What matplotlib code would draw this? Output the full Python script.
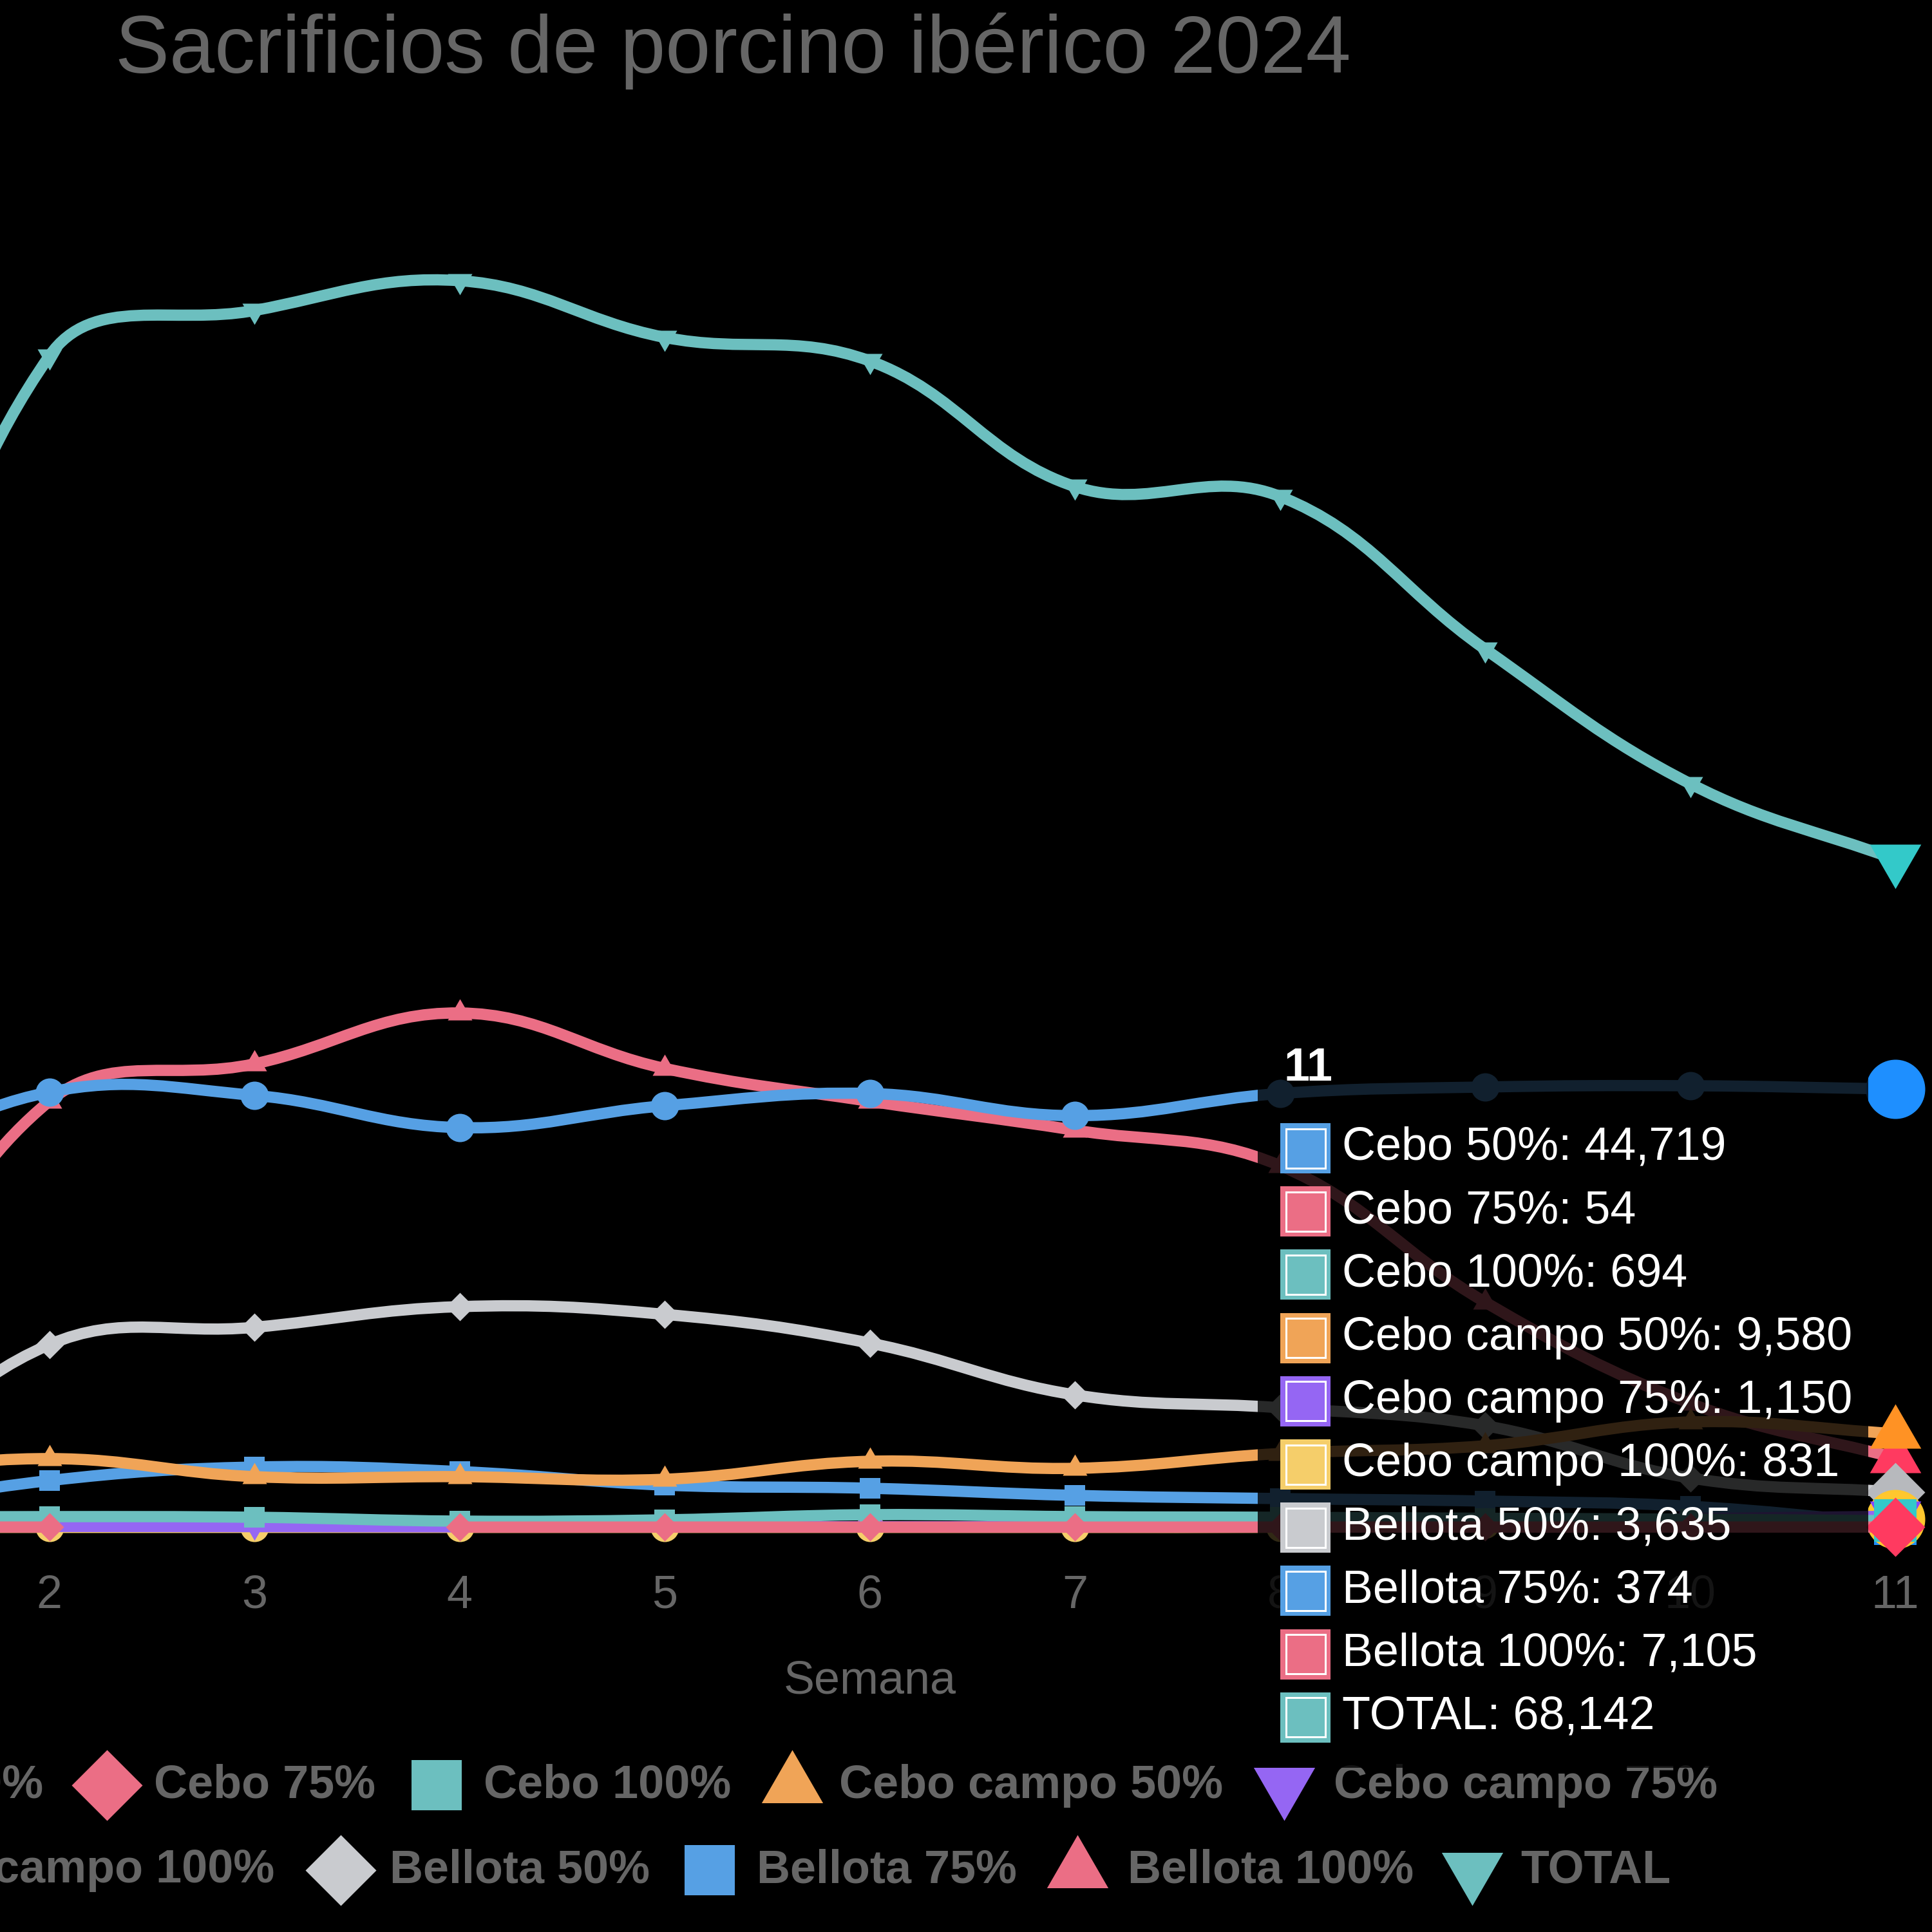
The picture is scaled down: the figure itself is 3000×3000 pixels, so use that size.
import numpy as np
import matplotlib
matplotlib.use('Agg')
import matplotlib.pyplot as plt
from matplotlib.path import Path
from matplotlib.patches import PathPatch, FancyBboxPatch, Rectangle

# Sacrificios semanales de porcino ibérico 2024
weeks = list(range(1, 12))
labels = ['Cebo 50%', 'Cebo 75%', 'Cebo 100%', 'Cebo campo 50%', 'Cebo campo 75%',
          'Cebo campo 100%', 'Bellota 50%', 'Bellota 75%', 'Bellota 100%', 'TOTAL']

cebo_50 = [35700, 44400, 44070, 40780, 43010, 44260, 42000, 44260, 44920, 45050, 44719]
cebo_75 = [60, 50, np.nan, 45, 50, 50, 45, 50, 50, 50, 54]
cebo_100 = [1050, 1116, 1051, 657, 788, 1313, 1116, 1050, 950, 850, 694]
cebo_campo_50 = [5250, 7030, 5190, 5190, 4925, 6760, 6040, 7550, 8340, 10770, 9580]
cebo_campo_75 = [150, 120, 100, 80, 80, 80, 80, 100, 500, 900, 1150]
cebo_campo_100 = [30, 20, 20, 20, 20, 20, 20, 30, 300, 600, 831]
bellota_50 = [2500, 18650, 20420, 22525, 21740, 18810, 13530, 12215, 10380, 5060, 3635]
bellota_75 = [1500, 4790, 6170, 5710, 4330, 4010, 3280, 2955, 2700, 2170, 374]
bellota_100 = [12600, 43470, 47280, 52470, 46820, 43470, 40520, 36910, 22990, 12670, 7105]
total = [63830, 119450, 124100, 127140, 121360, 118960, 106150, 105140, 89570, 75850, 68142]

series = [cebo_50, cebo_75, cebo_100, cebo_campo_50, cebo_campo_75,
          cebo_campo_100, bellota_50, bellota_75, bellota_100, total]

COLORS = ['#56A0E4', '#EB6E85', '#6CBFBF', '#F0A457', '#9566F3',
          '#F5CE6A', '#C9CBCF', '#56A0E4', '#EB6E85', '#6CBFBF']
HOVER = ['#1E8FFF', '#FF3A60', '#33C9C9', '#FF9224', '#8347FF',
         '#FFC72E', '#B7B9BD', '#1E8FFF', '#FF3A60', '#33C9C9']
STYLES = ['circle', 'rectRot', 'rect', 'triangle', 'triangleDown'] * 2

DPI = 100
W = H = 3000
GREY = '#666666'
FS = 72 * 72 / DPI          # 72 px de fuente
LW = 17.5 * 72 / DPI        # grosor de línea

plt.rcParams['font.family'] = ['Liberation Sans', 'DejaVu Sans']

TRI_UP = [(0, 1), (0.866, -0.5), (-0.866, -0.5), (0, 1)]
TRI_DOWN = [(0, -1), (0.866, 0.5), (-0.866, 0.5), (0, -1)]
DIAMOND = [(0, 1), (1, 0), (0, -1), (-1, 0), (0, 1)]


def marker_args(style, r_px):
    """marcador al estilo Chart.js con radio r_px"""
    r_pt = r_px * 72 / DPI
    if style == 'circle':
        return dict(marker='o', markersize=2 * r_pt)
    if style == 'rect':
        return dict(marker='s', markersize=2 * r_pt * 0.7071)
    if style == 'rectRot':
        return dict(marker=DIAMOND, markersize=2 * r_pt)
    if style == 'triangle':
        return dict(marker=TRI_UP, markersize=2 * r_pt)
    return dict(marker=TRI_DOWN, markersize=2 * r_pt)


def spline_path(ax, xs, ys, tension=0.4):
    """curva bezier igual que Chart.js (splineCurve + capBezierPoints)"""
    ys = np.asarray(ys, dtype=float)
    pts = ax.transData.transform(np.column_stack([xs, np.nan_to_num(ys)]))
    skip = np.isnan(ys)
    n = len(xs)
    cp1 = pts.copy()
    cp2 = pts.copy()
    for i in range(n):
        if skip[i]:
            continue
        prev = pts[i - 1] if i > 0 and not skip[i - 1] else pts[i]
        nxt = pts[i + 1] if i < n - 1 and not skip[i + 1] else pts[i]
        d01 = np.hypot(*(pts[i] - prev))
        d12 = np.hypot(*(nxt - pts[i]))
        tot = d01 + d12
        s01 = d01 / tot if tot else 0
        s12 = d12 / tot if tot else 0
        cp1[i] = pts[i] - tension * s01 * (nxt - prev)
        cp2[i] = pts[i] + tension * s12 * (nxt - prev)
    bb = ax.bbox
    for cp in (cp1, cp2):
        cp[:, 0] = np.clip(cp[:, 0], bb.x0, bb.x1)
        cp[:, 1] = np.clip(cp[:, 1], bb.y0, bb.y1)
    verts, codes = [], []
    for i in range(n):
        if skip[i]:
            continue
        if i == 0 or skip[i - 1]:
            verts.append(pts[i])
            codes.append(Path.MOVETO)
        else:
            verts += [cp2[i - 1], cp1[i], pts[i]]
            codes += [Path.CURVE4] * 3
    return Path(ax.transData.inverted().transform(np.array(verts)), codes)


fig = plt.figure(figsize=(W / DPI, H / DPI), dpi=DPI, facecolor='black')

# zona del gráfico: semana 1 queda fuera del lienzo, a la izquierda
ax_left, ax_right, ax_top, ax_bottom = -242, 2943, 240, 2372
ax = fig.add_axes([ax_left / W, 1 - ax_bottom / H,
                   (ax_right - ax_left) / W, (ax_bottom - ax_top) / H])
ax.set_facecolor('black')
ax.set_xlim(1, 11)
ax.set_ylim(0, 140000)
for s in ax.spines.values():
    s.set_visible(False)
ax.set_yticks([])
ax.set_xticks(weeks)
ax.set_xticklabels([str(w) for w in weeks])
ax.tick_params(axis='x', length=0, pad=52.5, labelsize=FS, labelcolor=GREY)
ax.set_xlabel('Semana', fontsize=FS, color=GREY)
ax.xaxis.set_label_coords(0.5, (628 - 370) / -2132)
ax.xaxis.label.set_verticalalignment('baseline')

n_sets = len(series)
for i, (vals, col, hov, st) in enumerate(zip(series, COLORS, HOVER, STYLES)):
    z = 2 + (n_sets - 1 - i)
    path = spline_path(ax, weeks, vals)
    ax.add_patch(PathPatch(path, fill=False, edgecolor=col, lw=LW,
                           capstyle='butt', joinstyle='round', zorder=z, clip_on=False))
    ax.plot(weeks[:-1], vals[:-1], linestyle='none', color=col, mew=0,
            zorder=z + 0.3, clip_on=False, **marker_args(st, 22))
    # punto activo (semana 11)
    ax.plot(weeks[-1:], vals[-1:], linestyle='none', color=hov, mew=0,
            zorder=z + 0.6, clip_on=False, **marker_args(st, 46))

# título
fig.text(1138.5 / W, 1 - 113 / H, 'Sacrificios de porcino ibérico 2024',
         ha='center', va='baseline', fontsize=126 * 72 / DPI, color=GREY)

# capa superior en píxeles para leyenda y tooltip
ov = fig.add_axes([0, 0, 1, 1])
ov.set_zorder(5)
ov.set_xlim(0, W)
ov.set_ylim(H, 0)
ov.axis('off')
ov.patch.set_alpha(0)

# leyenda (índice, x marcador, x texto, fila)
legend_items = [
    (0, None, 67, 0), (1, 166, 239, 0), (2, 678, 751, 0), (3, 1230, 1303, 0), (4, 1994, 2071, 0),
    (5, None, 426, 1), (6, 529, 605, 1), (7, 1102, 1175, 1), (8, 1673, 1751, 1), (9, 2286, 2361, 1),
]
row_marker_y = [2772, 2904]
row_text_y = [2792, 2923]
for idx, mx, tx, row in legend_items:
    if mx is None:
        ov.text(tx, row_text_y[row], labels[idx], ha='right', va='baseline',
                fontsize=FS, fontweight='bold', color=GREY, zorder=1)
        continue
    ov.plot([mx], [row_marker_y[row]], linestyle='none', color=COLORS[idx], mew=0,
            zorder=1, clip_on=False, **marker_args(STYLES[idx], 55))
    ov.text(tx, row_text_y[row], labels[idx], ha='left', va='baseline',
            fontsize=FS, fontweight='bold', color=GREY, zorder=1)

# tooltip de la semana 11
ov.add_patch(FancyBboxPatch((1953, 1585), 948, 1160,
                            boxstyle='round,pad=0,rounding_size=36',
                            fc=(0, 0, 0, 0.8), ec='none', zorder=10))
ov.text(1993, 1678, str(weeks[-1]), ha='left', va='baseline', fontsize=FS,
        fontweight='bold', color='white', zorder=11)
for k in range(n_sets):
    base = 1801 + 98.2 * k
    top = base - 57
    ov.add_patch(Rectangle((1988, top), 78, 78, fc=COLORS[k], ec='none', zorder=11))
    ov.add_patch(Rectangle((1988 + 8.5, top + 8.5), 61, 61, fc=COLORS[k],
                           ec='white', lw=3 * 72 / DPI, zorder=12))
    ov.text(2084, base, f'{labels[k]}: {series[k][-1]:,}', ha='left', va='baseline',
            fontsize=FS, color='white', zorder=12)

fig.savefig('out.png', dpi=DPI, facecolor='black')
